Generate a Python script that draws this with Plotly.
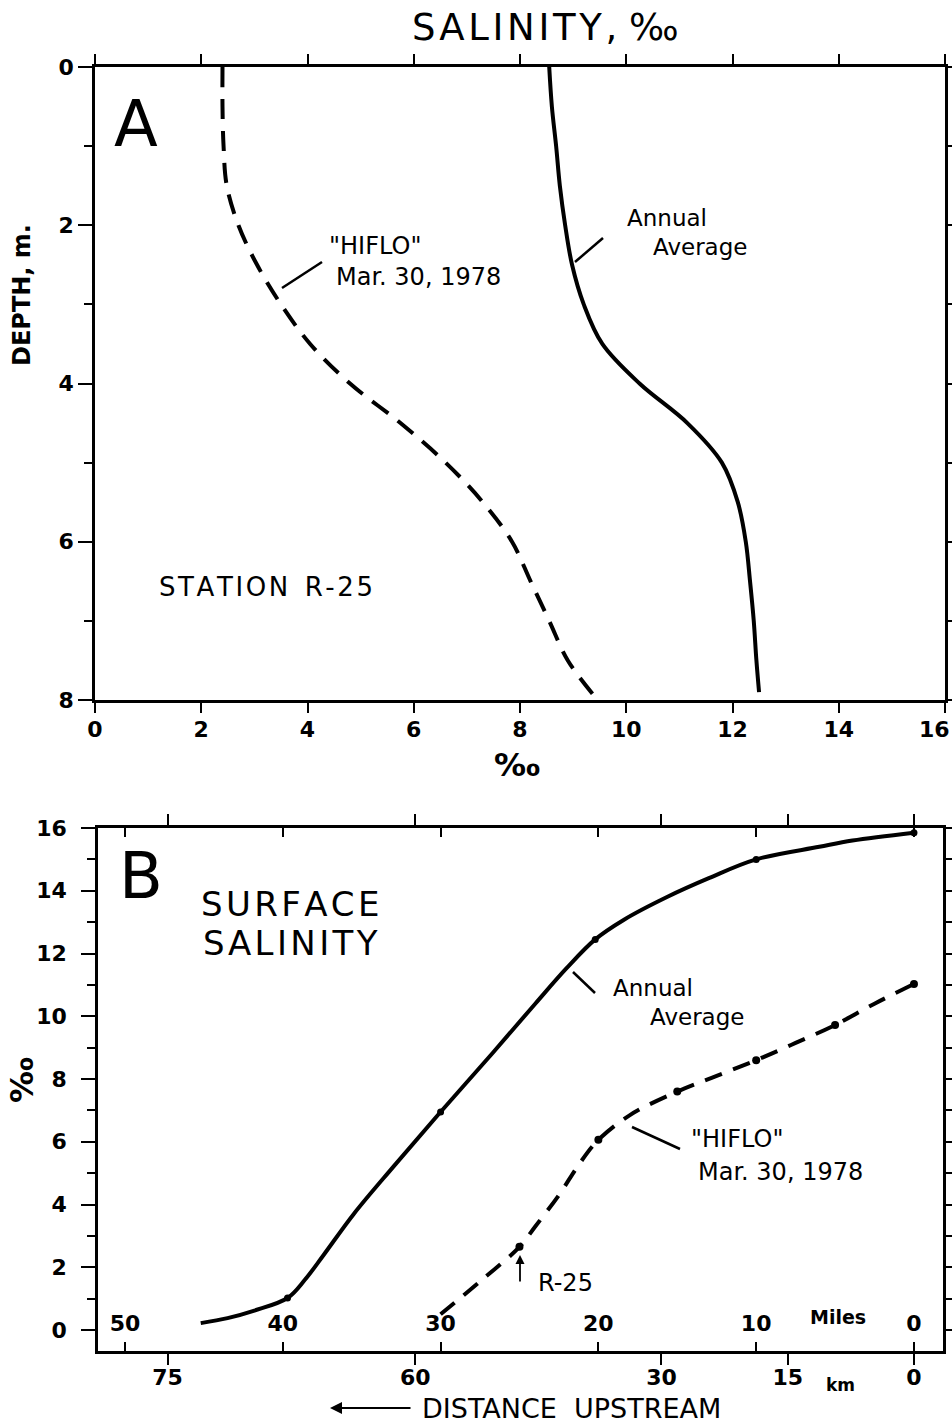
import plotly.graph_objects as go

# ---------------- data ----------------
# Panel A: salinity profiles at Station R-25
a_depth_annual = [0, 0.5, 1.0, 1.5, 2.0, 2.5, 3.0, 3.5, 4.0, 4.5, 5.0, 5.5, 6.0, 6.5, 7.0, 7.5, 7.9]
a_sal_annual = [8.55, 8.6, 8.68, 8.75, 8.85, 8.98, 9.2, 9.55, 10.25, 11.15, 11.8, 12.1, 12.25, 12.33, 12.4, 12.45, 12.5]
a_depth_hiflo = [0, 0.5, 1.0, 1.5, 2.0, 2.5, 3.0, 3.5, 4.0, 4.5, 5.0, 5.5, 6.0, 6.5, 7.0, 7.5, 7.95]
a_sal_hiflo = [2.4, 2.4, 2.42, 2.48, 2.7, 3.05, 3.5, 4.05, 4.8, 5.75, 6.6, 7.3, 7.85, 8.2, 8.55, 8.9, 9.4]

# Panel B: surface salinity vs distance upstream (miles)
b_mi_annual = [45.2, 43.5, 41.8, 39.7, 38.6, 37.4, 35.5, 33.0, 30.0, 26.7, 24.0, 22.0, 20.2, 18.4, 15.65, 13.0, 10.0, 6.0, 3.9, 0.0]
b_sal_annual = [0.22, 0.38, 0.62, 1.02, 1.6, 2.4, 3.7, 5.2, 6.95, 8.83, 10.4, 11.54, 12.45, 13.07, 13.8, 14.4, 15.0, 15.4, 15.6, 15.85]
b_pts_annual_mi = [39.7, 30.0, 20.2, 10.0, 0.0]
b_pts_annual_sal = [1.02, 6.95, 12.45, 15.0, 15.85]

b_mi_hiflo = [30.0, 27.5, 25.0, 24.0, 22.5, 21.2, 20.0, 18.0, 15.0, 12.5, 10.0, 7.5, 5.0, 2.5, 0.0]
b_sal_hiflo = [0.5, 1.55, 2.65, 3.3, 4.3, 5.3, 6.06, 6.85, 7.6, 8.1, 8.6, 9.15, 9.72, 10.4, 11.03]
b_pts_hiflo_mi = [25.0, 20.0, 15.0, 10.0, 5.0, 0.0]
b_pts_hiflo_sal = [2.65, 6.06, 7.6, 8.6, 9.72, 11.03]

# tick labels
a_x_ticks = [0, 2, 4, 6, 8, 10, 12, 14, 16]
a_y_ticks = [0, 2, 4, 6, 8]
b_y_ticks = [0, 2, 4, 6, 8, 10, 12, 14, 16]
miles_ticks = [50, 40, 30, 20, 10, 0]
km_labels = ["75", "60", "30", "15", "0"]
km_tick_pos_mi = [47.3, 31.6, 16.0, 8.0, 0.0]   # where the km ticks sit on the miles scale

W, H = 952, 1424
FONT = "DejaVu Sans"

def px(x):
    return x / W

def py(y):
    return 1 - y / H

fig = go.Figure()

LW = 4
# Panel A traces
fig.add_trace(go.Scatter(x=a_sal_annual, y=a_depth_annual, mode="lines",
                         line=dict(color="black", width=LW, shape="spline"),
                         xaxis="x", yaxis="y", showlegend=False))
fig.add_trace(go.Scatter(x=a_sal_hiflo, y=a_depth_hiflo, mode="lines",
                         line=dict(color="black", width=LW, shape="spline", dash="20px,12px"),
                         xaxis="x", yaxis="y", showlegend=False))

# Panel B traces
fig.add_trace(go.Scatter(x=b_mi_annual, y=b_sal_annual, mode="lines",
                         line=dict(color="black", width=LW, shape="spline"),
                         xaxis="x2", yaxis="y2", showlegend=False))
fig.add_trace(go.Scatter(x=b_pts_annual_mi, y=b_pts_annual_sal, mode="markers",
                         marker=dict(color="black", size=7),
                         xaxis="x2", yaxis="y2", showlegend=False))
fig.add_trace(go.Scatter(x=b_mi_hiflo, y=b_sal_hiflo, mode="lines",
                         line=dict(color="black", width=LW, shape="spline", dash="18px,12px"),
                         xaxis="x2", yaxis="y2", showlegend=False))
fig.add_trace(go.Scatter(x=b_pts_hiflo_mi, y=b_pts_hiflo_sal, mode="markers",
                         marker=dict(color="black", size=8),
                         xaxis="x2", yaxis="y2", showlegend=False))
# invisible trace to activate the km axis
fig.add_trace(go.Scatter(x=[0], y=[0], mode="markers", marker=dict(opacity=0), xaxis="x3", yaxis="y2",
                         showlegend=False, hoverinfo="skip"))

TICKFONT = dict(family=FONT, size=22, color="black", weight="bold")
axis_common = dict(showgrid=False, zeroline=False, showline=True, linecolor="black", linewidth=2.5,
                   tickcolor="black", tickwidth=2, automargin=False, ticklabeloverflow="allow",
                   tickfont=TICKFONT)

# last x label of panel A sits at the page edge: drawn separately, right-aligned to the edge
a_x_text = [str(v) for v in a_x_ticks[:-1]] + [""]

fig.update_layout(
    width=W, height=H, margin=dict(l=0, r=0, t=0, b=0, autoexpand=False),
    paper_bgcolor="white", plot_bgcolor="white",
    xaxis=dict(domain=[px(95), px(945)], range=[0, 16], anchor="y", tickvals=a_x_ticks, ticktext=a_x_text,
               ticks="outside", ticklen=10, mirror="ticks", ticklabelstandoff=-2, **axis_common),
    yaxis=dict(domain=[py(700), py(67)], range=[8, 0], anchor="x", tickvals=a_y_ticks,
               ticks="outside", ticklen=14, mirror="ticks",
               minor=dict(dtick=1, tick0=0, ticks="outside", ticklen=8, tickcolor="black", tickwidth=2),
               **axis_common),
    xaxis2=dict(domain=[px(98), px(943)], range=[51.71, -1.84], anchor="y2", tickvals=miles_ticks,
                ticks="inside", ticklen=9, mirror="ticks", ticklabelposition="inside",
                ticklabelstandoff=8, **axis_common),
    xaxis3=dict(domain=[px(98), px(943)], range=[51.71, -1.84], anchor="y2", overlaying="x2", side="bottom",
                tickvals=km_tick_pos_mi, ticktext=km_labels, ticks="outside", ticklen=11, mirror="ticks",
                ticklabelstandoff=-6, **axis_common),
    yaxis2=dict(domain=[py(1351), py(828)], range=[-0.669, 16], anchor="x2", tickvals=b_y_ticks,
                ticks="outside", ticklen=14, mirror="ticks", ticklabelstandoff=10,
                minor=dict(dtick=1, tick0=0, ticks="outside", ticklen=8, tickcolor="black", tickwidth=2),
                **axis_common),
)

ann = []
def text(x, y, s, size, weight="normal", **kw):
    d = dict(x=px(x), y=py(y), xref="paper", yref="paper", text=s, showarrow=False,
             font=dict(family=FONT, size=size, color="black", weight=weight),
             xanchor="center", yanchor="middle")
    d.update(kw)
    ann.append(d)

HS = "\u200a"  # hair space for wider lettering
text(545, 28, HS.join("SALINITY,") + " " + "‰", 37)
text(517, 765, "‰", 32, weight="bold")
text(22, 295, "DEPTH, m.", 24, weight="bold", textangle=-90)
text(22, 1080, "‰", 32, weight="bold", textangle=-90)
text(136, 124, "A", 64)
text(266, 587, HS.join("STATION") + "  " + HS.join("R-25"), 26)
text(375, 246, '"HIFLO"', 24)
text(418, 277, "Mar. 30, 1978", 24)
text(667, 218, "Annual", 23)
text(700, 247, "Average", 23)

text(141, 876, "B", 64)
text(290, 904, HS.join("SURFACE"), 34)
text(290, 943, HS.join("SALINITY"), 34)
text(653, 988, "Annual", 23)
text(697, 1017, "Average", 23)
text(737, 1139, '"HIFLO"', 24)
text(780, 1172, "Mar. 30, 1978", 24)
text(565, 1283, "R-25", 24)
text(838, 1317, "Miles", 19, weight="bold")
text(840, 1385, "km", 17, weight="bold")
text(571, 1408, "DISTANCE  UPSTREAM", 27)
ann.append(dict(x=1.0, y=py(729), xref="paper", yref="paper", text=str(a_x_ticks[-1]), showarrow=False,
                font=TICKFONT, xanchor="right", yanchor="middle"))

# arrows (tail offsets in pixels)
ann.append(dict(x=px(330), y=py(1408), xref="paper", yref="paper", ax=82, ay=0,
                showarrow=True, arrowhead=2, arrowsize=1.2, arrowwidth=2, arrowcolor="black", text=""))
ann.append(dict(x=px(520), y=py(1255), xref="paper", yref="paper", ax=0, ay=28,
                showarrow=True, arrowhead=2, arrowsize=1, arrowwidth=1.8, arrowcolor="black", text=""))
fig.update_layout(annotations=ann)

# leader lines
shapes = []
def seg(x0, y0, x1, y1):
    shapes.append(dict(type="line", xref="paper", yref="paper", x0=px(x0), y0=py(y0), x1=px(x1), y1=py(y1),
                       line=dict(color="black", width=2.5)))
seg(282, 288, 322, 262)
seg(575, 262, 603, 238)
seg(573, 972, 595, 993)
seg(632, 1127, 680, 1149)
fig.update_layout(shapes=shapes)

fig.write_html("out.html")
